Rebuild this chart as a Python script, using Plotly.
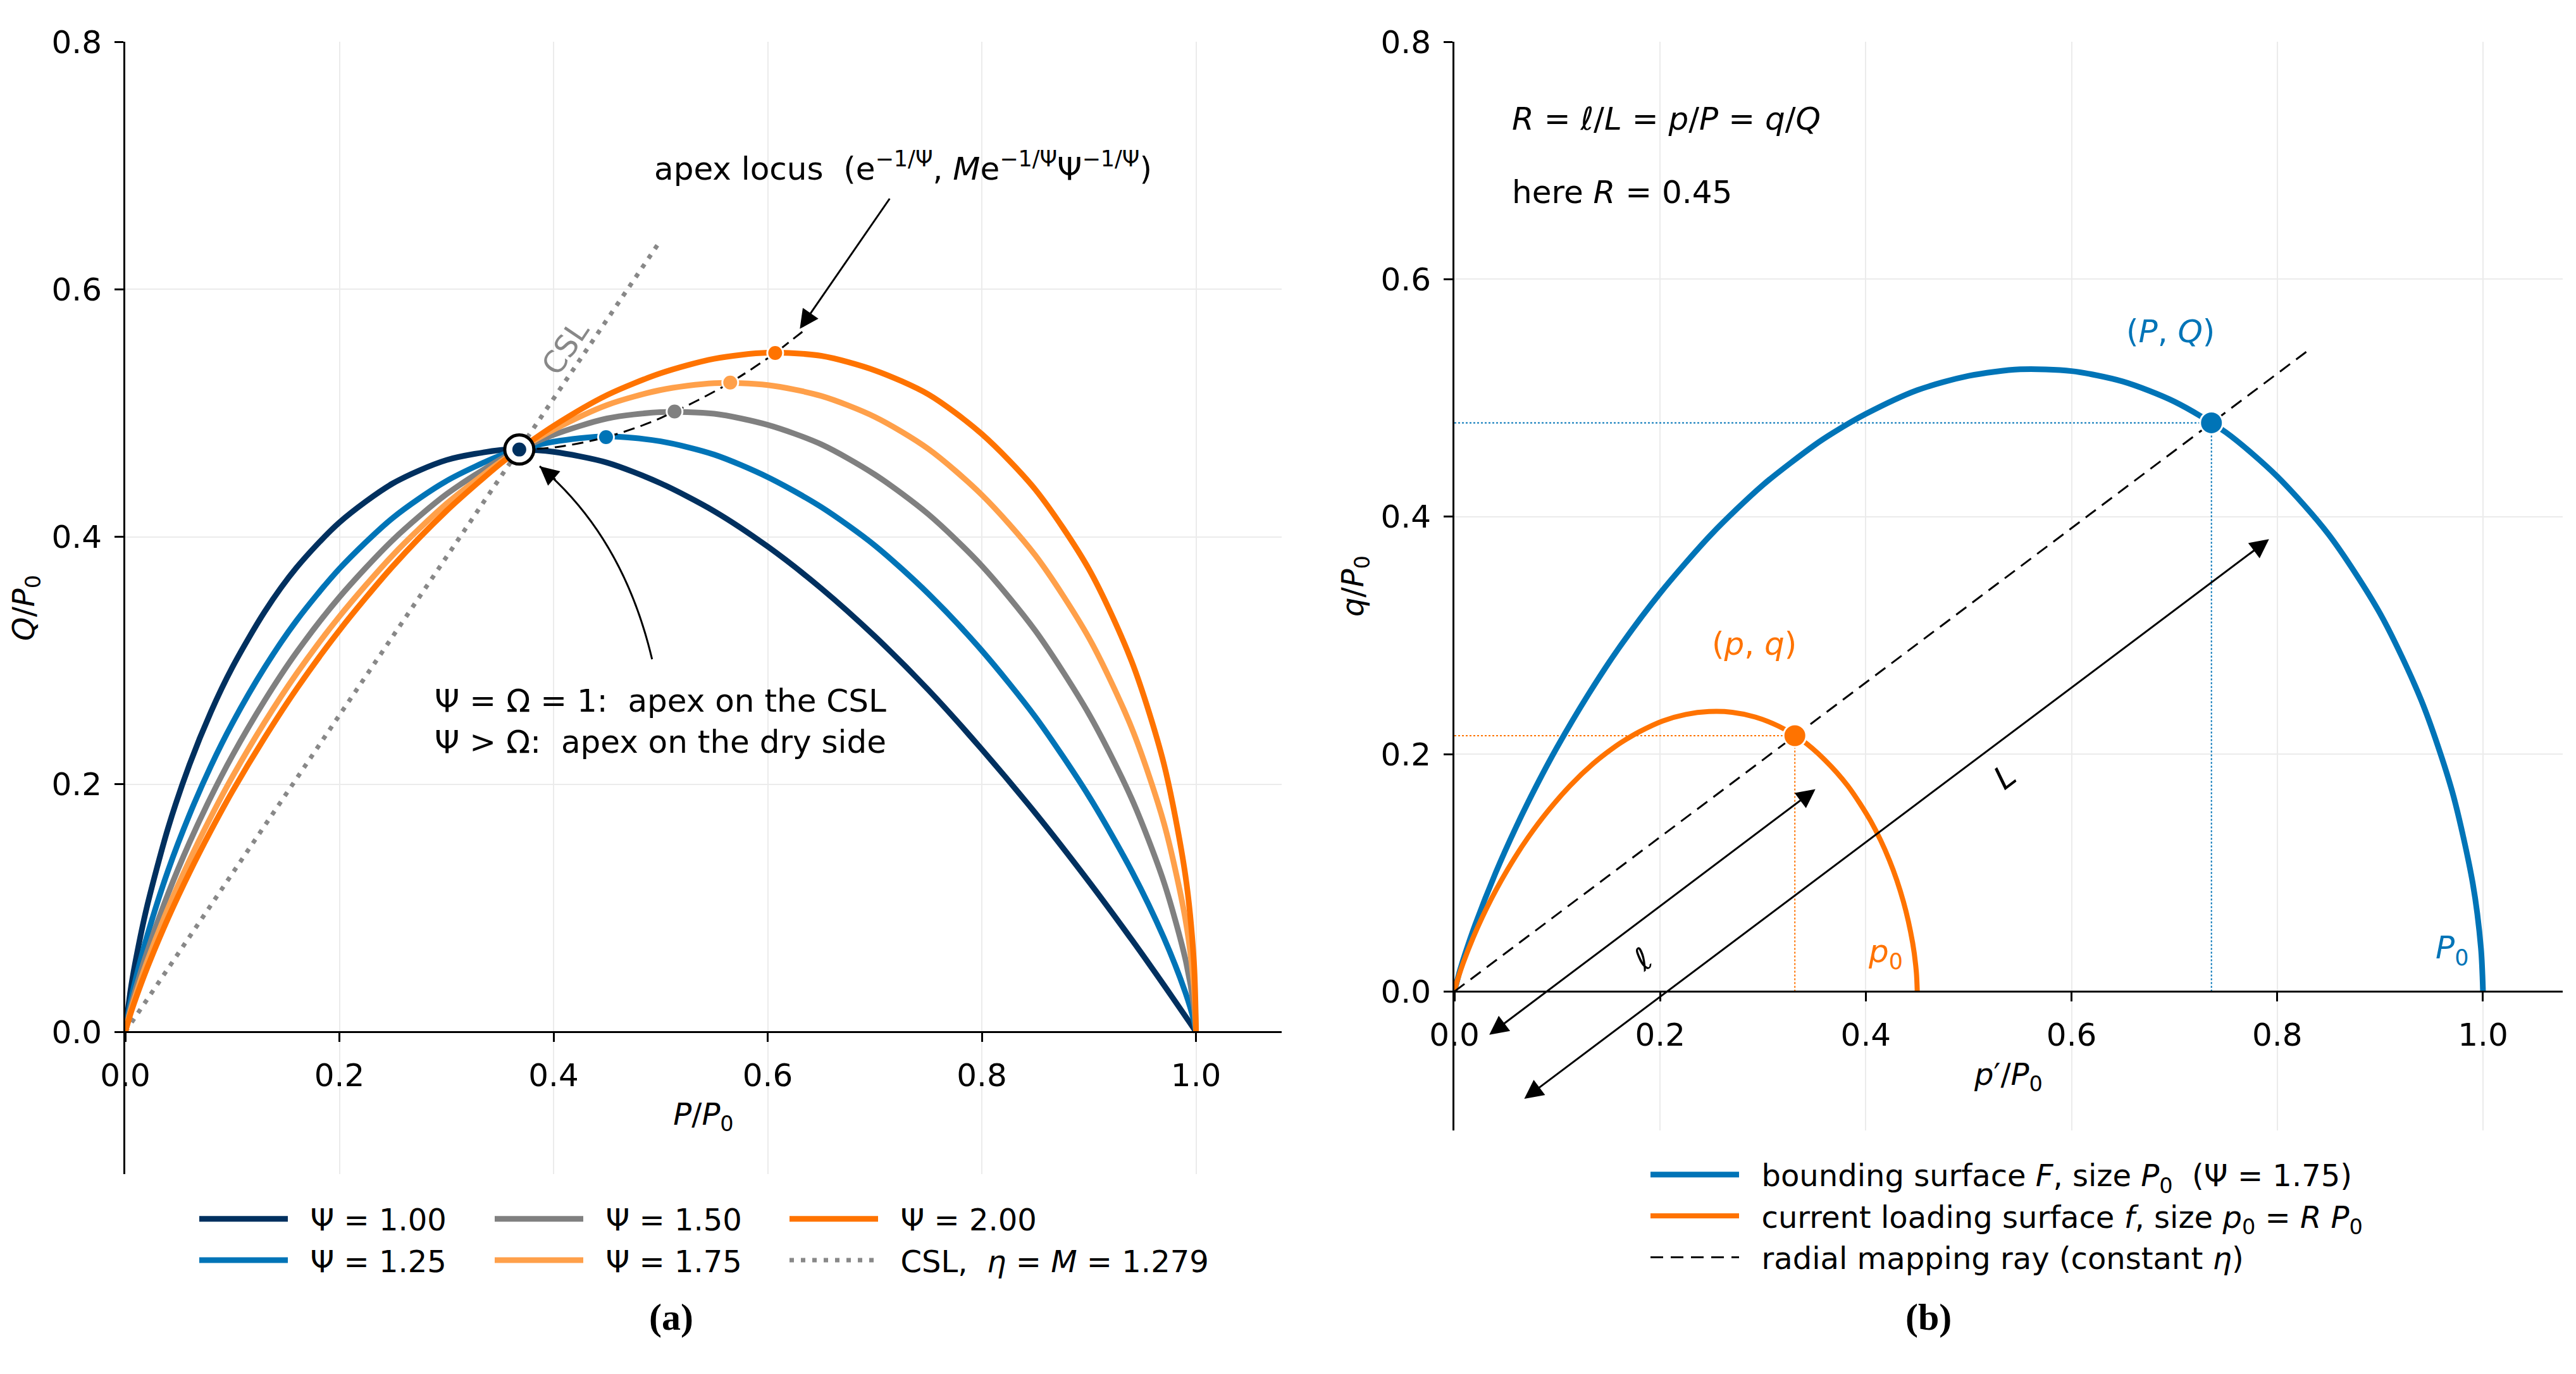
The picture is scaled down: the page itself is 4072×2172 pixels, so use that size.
import plotly.graph_objects as go

# ---------------- panel (a): surfaces for several Psi (P/P0, Q/P0) ----------------
P_GRID = [0, 0.005, 0.01, 0.02, 0.04, 0.06, 0.08, 0.1, 0.13, 0.16, 0.2, 0.25, 0.3, 0.35, 0.368,
          0.4, 0.45, 0.5, 0.55, 0.6, 0.65, 0.7, 0.75, 0.8, 0.85, 0.9, 0.94, 0.97, 0.99, 0.998, 1.0]
Q_PSI_100 = [0, 0.0339, 0.0589, 0.1001, 0.1647, 0.2159, 0.2585, 0.2945, 0.3392, 0.3751, 0.4116,
             0.4432, 0.4620, 0.4700, 0.4705, 0.4686, 0.4599, 0.4432, 0.4207, 0.3921, 0.3583,
             0.3196, 0.2763, 0.2282, 0.1767, 0.1213, 0.0744, 0.0378, 0.0127, 0.0026, 0]
Q_PSI_125 = [0, 0.0243, 0.0434, 0.0762, 0.1304, 0.1755, 0.2148, 0.2493, 0.2941, 0.3323, 0.3742,
             0.4154, 0.4451, 0.4656, 0.4705, 0.4768, 0.4812, 0.4771, 0.4664, 0.4482, 0.4240,
             0.3930, 0.3540, 0.3080, 0.2544, 0.1903, 0.1298, 0.0759, 0.0319, 0.0089, 0]
Q_PSI_150 = [0, 0.0194, 0.0354, 0.0635, 0.1115, 0.1529, 0.1898, 0.2231, 0.2674, 0.3066, 0.3512,
             0.3975, 0.4344, 0.4624, 0.4705, 0.4824, 0.4956, 0.5007, 0.4994, 0.4904, 0.4747,
             0.4503, 0.4182, 0.3765, 0.3240, 0.2568, 0.1882, 0.1210, 0.0590, 0.0203, 0]
Q_PSI_175 = [0, 0.0166, 0.0306, 0.0558, 0.0998, 0.1386, 0.1737, 0.2060, 0.2499, 0.2894, 0.3356,
             0.3853, 0.4267, 0.4602, 0.4705, 0.4865, 0.5065, 0.5186, 0.5241, 0.5226, 0.5138,
             0.4969, 0.4710, 0.4338, 0.3849, 0.3183, 0.2453, 0.1687, 0.0914, 0.0366, 0]
Q_PSI_200 = [0, 0.0147, 0.0274, 0.0506, 0.0918, 0.1287, 0.1626, 0.1942, 0.2374, 0.2771, 0.3244,
             0.3763, 0.4209, 0.4588, 0.4705, 0.4896, 0.5145, 0.5321, 0.5438, 0.5487, 0.5462,
             0.5345, 0.5151, 0.4830, 0.4381, 0.3738, 0.2991, 0.2165, 0.1269, 0.0571, 0]

PSI_LABELS = ["Ψ = 1.00", "Ψ = 1.25", "Ψ = 1.50", "Ψ = 1.75", "Ψ = 2.00"]
PSI_COLORS = ["#00305f", "#0074b7", "#808080", "#ffa04a", "#ff7300"]

# apex of each curve and the apex locus
APEX_P = [0.368, 0.449, 0.513, 0.565, 0.607]
APEX_Q = [0.4705, 0.4805, 0.5012, 0.5246, 0.5485]
LOCUS_P = [0.368, 0.403, 0.449, 0.490, 0.513, 0.535, 0.565, 0.591, 0.607, 0.621, 0.635]
LOCUS_Q = [0.4705, 0.4725, 0.4805, 0.4923, 0.5012, 0.5104, 0.5246, 0.5390, 0.5485, 0.5580, 0.5674]

# critical state line, eta = M = 1.279
CSL_P = [0, 0.5]
CSL_Q = [0, 0.6395]

# ---------------- panel (b): bounding / loading surface ----------------
BOUND_P = P_GRID
BOUND_Q = Q_PSI_175
LOAD_P = [0, 0.0023, 0.0045, 0.009, 0.018, 0.027, 0.036, 0.045, 0.0585, 0.072, 0.09, 0.1125,
          0.135, 0.1575, 0.1656, 0.18, 0.2025, 0.225, 0.2475, 0.27, 0.2925, 0.315, 0.3375, 0.36,
          0.3825, 0.405, 0.423, 0.4365, 0.4455, 0.4491, 0.45]
LOAD_Q = [0, 0.0075, 0.0138, 0.0251, 0.0449, 0.0624, 0.0782, 0.0927, 0.1125, 0.1302, 0.1510,
          0.1734, 0.1920, 0.2071, 0.2117, 0.2189, 0.2279, 0.2334, 0.2358, 0.2352, 0.2312, 0.2236,
          0.2120, 0.1952, 0.1732, 0.1432, 0.1104, 0.0759, 0.0411, 0.0165, 0]
RAY_P = [0, 0.83]
RAY_Q = [0, 0.540]
BIG_PT = (0.736, 0.479)    # (P, Q) on F
SMALL_PT = (0.331, 0.2155)  # (p, q) on f

BLUE = "#0074b7"
ORANGE = "#ff7300"
FONT = "DejaVu Sans"
W, H = 4072, 2172
PAD = 8  # page margin of the html body


def px_x(px):
    return (px - PAD) / W


def px_y(py):
    return 1 - (py - PAD) / H


fig = go.Figure()

# ---- (a) traces ----
fig.add_trace(go.Scatter(x=CSL_P, y=CSL_Q, mode="lines",
                         name="\u00a0\u00a0CSL,\u00a0\u00a0<i>η</i> = <i>M</i> = 1.279",
                         line=dict(color="#888888", width=7, dash="7px,11px"),
                         legend="legend3", legendrank=2))
curves = [Q_PSI_100, Q_PSI_125, Q_PSI_150, Q_PSI_175, Q_PSI_200]
legend_of = ["legend", "legend", "legend2", "legend2", "legend3"]
for i, q in enumerate(curves):
    fig.add_trace(go.Scatter(x=P_GRID, y=q, mode="lines", name="\u00a0\u00a0" + PSI_LABELS[i],
                             line=dict(color=PSI_COLORS[i], width=9, shape="spline", smoothing=0.8),
                             legend=legend_of[i], legendrank=1 + (i % 2 if i < 4 else 0)))
fig.add_trace(go.Scatter(x=LOCUS_P, y=LOCUS_Q, mode="lines", showlegend=False,
                         line=dict(color="black", width=3, dash="18px,10px", shape="spline")))
fig.add_trace(go.Scatter(x=APEX_P[1:], y=APEX_Q[1:], mode="markers", showlegend=False,
                         marker=dict(size=25, color=PSI_COLORS[1:], line=dict(color="white", width=3))))
fig.add_trace(go.Scatter(x=APEX_P[:1], y=APEX_Q[:1], mode="markers", showlegend=False,
                         marker=dict(size=46, color="white", line=dict(color="black", width=5))))
fig.add_trace(go.Scatter(x=APEX_P[:1], y=APEX_Q[:1], mode="markers", showlegend=False,
                         marker=dict(size=25, color=PSI_COLORS[0], line=dict(color="white", width=3))))

# ---- (b) traces ----
guides = [
    ([0, BIG_PT[0]], [BIG_PT[1], BIG_PT[1]], BLUE),
    ([BIG_PT[0], BIG_PT[0]], [0, BIG_PT[1]], BLUE),
    ([0, SMALL_PT[0]], [SMALL_PT[1], SMALL_PT[1]], ORANGE),
    ([SMALL_PT[0], SMALL_PT[0]], [0, SMALL_PT[1]], ORANGE),
]
for gx, gy, gc in guides:
    fig.add_trace(go.Scatter(x=gx, y=gy, xaxis="x2", yaxis="y2", mode="lines", showlegend=False,
                             line=dict(color=gc, width=2, dash="3px,3px")))
fig.add_trace(go.Scatter(x=BOUND_P, y=BOUND_Q, xaxis="x2", yaxis="y2", mode="lines",
                         name="\u00a0\u00a0bounding surface <i>F</i>, size <i>P</i><sub>0</sub>\u00a0\u00a0(Ψ = 1.75)",
                         line=dict(color=BLUE, width=9, shape="spline", smoothing=0.8),
                         legend="legend4", legendrank=1))
fig.add_trace(go.Scatter(x=LOAD_P, y=LOAD_Q, xaxis="x2", yaxis="y2", mode="lines",
                         name="\u00a0\u00a0current loading surface <i>f</i>, size <i>p</i><sub>0</sub> = <i>R P</i><sub>0</sub>",
                         line=dict(color=ORANGE, width=8, shape="spline", smoothing=0.8),
                         legend="legend4", legendrank=2))
fig.add_trace(go.Scatter(x=RAY_P, y=RAY_Q, xaxis="x2", yaxis="y2", mode="lines",
                         name="\u00a0\u00a0radial mapping ray (constant <i>η</i>)",
                         line=dict(color="black", width=3, dash="20px,12px"), legend="legend4", legendrank=3))
fig.add_trace(go.Scatter(x=[BIG_PT[0], SMALL_PT[0]], y=[BIG_PT[1], SMALL_PT[1]], xaxis="x2", yaxis="y2",
                         mode="markers", showlegend=False,
                         marker=dict(size=36, color=[BLUE, ORANGE], line=dict(color="white", width=3))))

# ---- axes ----
XA_DOM = [px_x(198), px_x(2026)]
YA_DOM = [px_y(1856), px_y(66)]
XB_DOM = [px_x(2299), px_x(4051)]
YB_DOM = [px_y(1787), px_y(66)]
YA_RANGE = [-0.115, 0.8]
YB_RANGE = [-0.117, 0.8]


def zero_pos(dom, rng):
    return dom[0] + (0 - rng[0]) / (rng[1] - rng[0]) * (dom[1] - dom[0])


common = dict(dtick=0.2, tick0=0, tickformat=".1f", ticks="outside", ticklen=14, tickwidth=3,
              tickcolor="black", showline=True, linecolor="black", linewidth=3, showgrid=True,
              gridcolor="#ebebeb", gridwidth=2, zeroline=False, tickfont=dict(size=50, color="black"),
              ticklabelstandoff=10)

fig.update_layout(
    xaxis=dict(common, domain=XA_DOM, range=[0, 1.08], anchor="free", position=zero_pos(YA_DOM, YA_RANGE),
               title=dict(text="<i>P</i>/<i>P</i><sub>0</sub>", font=dict(size=48), standoff=16)),
    yaxis=dict(common, domain=YA_DOM, range=YA_RANGE, anchor="x",
               title=dict(text="<i>Q</i>/<i>P</i><sub>0</sub>", font=dict(size=48), standoff=12)),
    xaxis2=dict(common, domain=XB_DOM, range=[0, 1.0775], anchor="free", position=zero_pos(YB_DOM, YB_RANGE),
                title=dict(text="<i>p</i>′/<i>P</i><sub>0</sub>", font=dict(size=48), standoff=16)),
    yaxis2=dict(common, domain=YB_DOM, range=YB_RANGE, anchor="x2",
                title=dict(text="<i>q</i>/<i>P</i><sub>0</sub>", font=dict(size=48), standoff=12)),
)

leg = dict(orientation="v", xanchor="left", yanchor="top", font=dict(size=48, color="black"),
           itemwidth=140, bgcolor="rgba(0,0,0,0)", tracegroupgap=8, traceorder="normal")
fig.update_layout(
    legend=dict(leg, x=px_x(310), y=px_y(1889)),
    legend2=dict(leg, x=px_x(777), y=px_y(1889)),
    legend3=dict(leg, x=px_x(1243), y=px_y(1889)),
    legend4=dict(leg, x=px_x(2604), y=px_y(1819)),
)

# ---- annotations ----
ann = []
txt = dict(showarrow=False, font=dict(size=50, color="black"))
ann.append(dict(txt, xref="x", yref="y", x=0.493, y=0.699, xanchor="left", yanchor="middle",
                text="apex locus\u00a0\u00a0(e<sup>−1/Ψ</sup>, <i>M</i>e<sup>−1/Ψ</sup>Ψ<sup>−1/Ψ</sup>)"))
ann.append(dict(xref="x", yref="y", axref="x", ayref="y", x=0.630, y=0.568, ax=0.7145, ay=0.674,
                text="", showarrow=True, arrowhead=2, arrowsize=2, arrowwidth=3, arrowcolor="black"))
ann.append(dict(txt, xref="x", yref="y", x=0.5, y=0.251, xanchor="center", yanchor="middle", align="center",
                text="Ψ = Ω = 1:\u00a0\u00a0apex on the CSL<br>Ψ > Ω:\u00a0\u00a0apex on the dry side"))
ann.append(dict(xref="x", yref="y", axref="x", ayref="y", x=0.387, y=0.457, ax=0.4026, ay=0.4456,
                text="", showarrow=True, arrowhead=2, arrowsize=2, arrowwidth=3, arrowcolor="black"))
ann.append(dict(showarrow=False, xref="x", yref="y", x=0.411, y=0.553, text="CSL", textangle=-56,
                font=dict(size=48, color="#888888")))

ann.append(dict(txt, xref="x2", yref="y2", x=0.055, y=0.735, xanchor="left", yanchor="middle",
                text="<i>R</i> = <i>ℓ</i>/<i>L</i> = <i>p</i>/<i>P</i> = <i>q</i>/<i>Q</i>"))
ann.append(dict(txt, xref="x2", yref="y2", x=0.055, y=0.673, xanchor="left", yanchor="middle",
                text="here <i>R</i> = 0.45"))
ann.append(dict(showarrow=False, xref="x2", yref="y2", x=0.696, y=0.556, text="(<i>P</i>, <i>Q</i>)",
                font=dict(size=50, color=BLUE)))
ann.append(dict(showarrow=False, xref="x2", yref="y2", x=0.2915, y=0.293, text="(<i>p</i>, <i>q</i>)",
                font=dict(size=50, color=ORANGE)))
ann.append(dict(showarrow=False, xref="x2", yref="y2", x=0.419, y=0.032, text="<i>p</i><sub>0</sub>",
                font=dict(size=50, color=ORANGE)))
ann.append(dict(showarrow=False, xref="x2", yref="y2", x=0.970, y=0.035, text="<i>P</i><sub>0</sub>",
                font=dict(size=50, color=BLUE)))
ann.append(dict(showarrow=False, xref="x2", yref="y2", x=0.183, y=0.027, text="<i>ℓ</i>", textangle=-37,
                font=dict(size=50, color="black")))
ann.append(dict(showarrow=False, xref="x2", yref="y2", x=0.535, y=0.181, text="<i>L</i>", textangle=-37,
                font=dict(size=50, color="black")))
for (x0, y0, x1, y1) in [(0.033, -0.037, 0.351, 0.1705), (0.067, -0.091, 0.792, 0.381)]:
    ann.append(dict(xref="x2", yref="y2", axref="x2", ayref="y2", x=x1, y=y1, ax=x0, ay=y0, text="",
                    showarrow=True, arrowhead=2, startarrowhead=2, arrowside="end+start",
                    arrowsize=2, startarrowsize=2, arrowwidth=3, arrowcolor="black"))

ann.append(dict(showarrow=False, xref="paper", yref="paper", x=px_x(1024), y=px_y(2117), text="<b>(a)</b>",
                font=dict(size=60, family="Liberation Serif", color="black")))
ann.append(dict(showarrow=False, xref="paper", yref="paper", x=px_x(3087), y=px_y(2117), text="<b>(b)</b>",
                font=dict(size=60, family="Liberation Serif", color="black")))

fig.update_layout(
    annotations=ann,
    shapes=[dict(type="path", xref="x", yref="y", path="M 0.492,0.301 Q 0.465,0.40 0.387,0.457",
                 line=dict(color="black", width=3))],
    template="none",
    width=W, height=H,
    margin=dict(l=0, r=0, t=0, b=0),
    paper_bgcolor="white", plot_bgcolor="white",
    font=dict(family=FONT, color="black"),
)

fig.write_html("out.html")
